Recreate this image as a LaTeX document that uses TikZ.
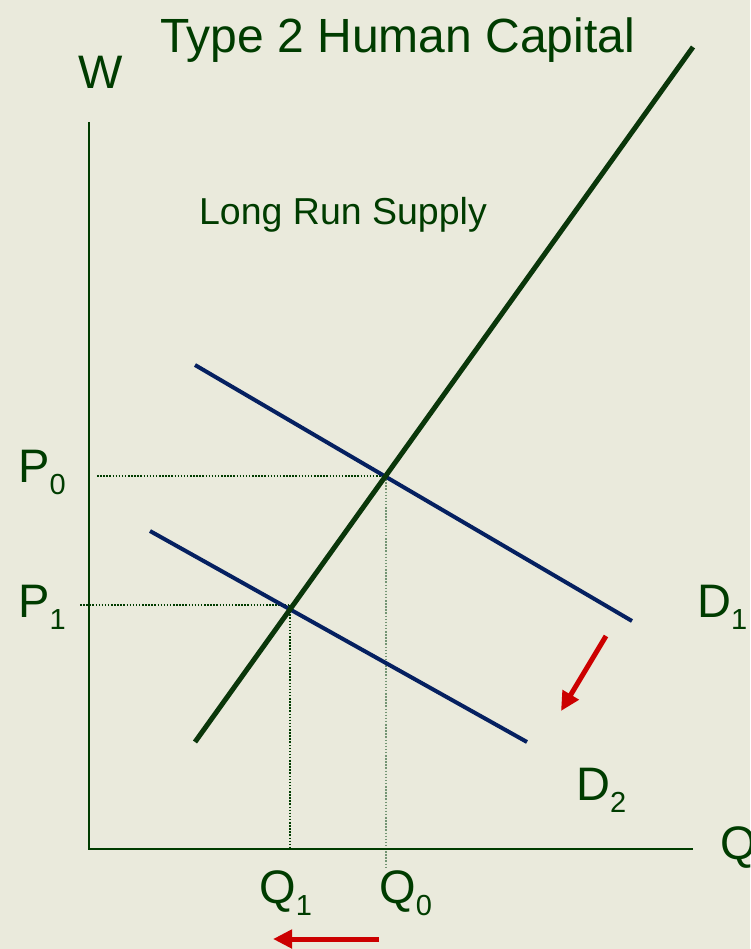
\documentclass[tikz,border=0pt]{standalone}
\usepackage{fontspec}
\setmainfont{Liberation Sans}
\usetikzlibrary{arrows.meta}
\definecolor{slideBack}{RGB}{234,234,220}
\definecolor{curveGreen}{RGB}{10,54,10}
\definecolor{textGreen}{RGB}{0,60,0}
\definecolor{demandBlue}{RGB}{5,32,96}
\definecolor{shiftRed}{RGB}{204,0,0}
\tikzset{
  axis/.style={draw=textGreen, line width=2pt},
  supply/.style={draw=curveGreen, line width=5pt},
  demand/.style={draw=demandBlue, line width=4pt},
  guide/.style={draw=textGreen, line width=1.5pt, dash pattern=on 1.5pt off 1.6pt},
  shiftarrow/.style={-{Triangle[length=19pt,width=18pt]}, draw=shiftRed, line width=5pt},
  biglabel/.style={inner sep=0pt, anchor=base west, text=textGreen, font=\fontsize{47}{50}\selectfont},
  midlabel/.style={inner sep=0pt, anchor=base, text=textGreen, font=\fontsize{37.5}{40}\selectfont}
}
\newcommand{\Sub}[1]{\raisebox{-12pt}{\fontsize{29}{30}\selectfont #1}}

\begin{document}
\begin{tikzpicture}[x=1pt,y=-1pt]
  \fill[slideBack] (0,0) rectangle (750,949);
  \useasboundingbox (0,0) rectangle (750,949);

  \coordinate (origin) at (89,849);
  \coordinate (ytop) at (89,122);
  \coordinate (xend) at (693,849);
  \coordinate (sLow) at (195,742);
  \coordinate (sHigh) at (693,47);
  \coordinate (dOneL) at (195,365);
  \coordinate (dOneR) at (632,621);
  \coordinate (dTwoL) at (150,531);
  \coordinate (dTwoR) at (527,742);
  \coordinate (eqZero) at (386,476);
  \coordinate (eqOne) at (290,605);
  \coordinate (pZeroTick) at (97,476);
  \coordinate (pOneTick) at (80,605);
  \coordinate (qZeroFoot) at (386,867);
  \coordinate (qOneFoot) at (290,849);

  \draw[guide] (pZeroTick) -- (eqZero);
  \draw[guide] (pOneTick) -- (eqOne);
  \draw[guide, draw=textGreen!55] (eqZero) -- (qZeroFoot);
  \draw[guide] (eqOne) -- (qOneFoot);

  \draw[axis] (ytop) -- (origin) -- (xend);
  \draw[demand] (dOneL) -- (dOneR);
  \draw[demand] (dTwoL) -- (dTwoR);
  \draw[supply] (sLow) -- (sHigh);

  \node[biglabel, font=\fontsize{48}{50}\selectfont] (title) at (160,53) {Type 2 Human Capital};
  \node[biglabel] (wLabel) at (78,89) {W};
  \node[biglabel] (qLabel) at (720,859) {Q};
  \node[midlabel] (lrs) at (343,225) {Long Run Supply};
  \node[biglabel] (pZero) at (18,482) {P\Sub{0}};
  \node[biglabel] (pOne) at (18,617) {P\Sub{1}};
  \node[biglabel] (qOne) at (259,903) {Q\Sub{1}};
  \node[biglabel] (qZero) at (379,903) {Q\Sub{0}};
  \node[biglabel] (dOne) at (697,617) {D\Sub{1}};
  \node[biglabel] (dTwo) at (576,800) {D\Sub{2}};

  \coordinate (demTail) at (606,636);
  \coordinate (demHead) at (561,711);
  \coordinate (qTail) at (379,939);
  \coordinate (qHead) at (273,939);
  \draw[shiftarrow] (demTail) -- (demHead);
  \draw[shiftarrow] (qTail) -- (qHead);
\end{tikzpicture}
\end{document}
